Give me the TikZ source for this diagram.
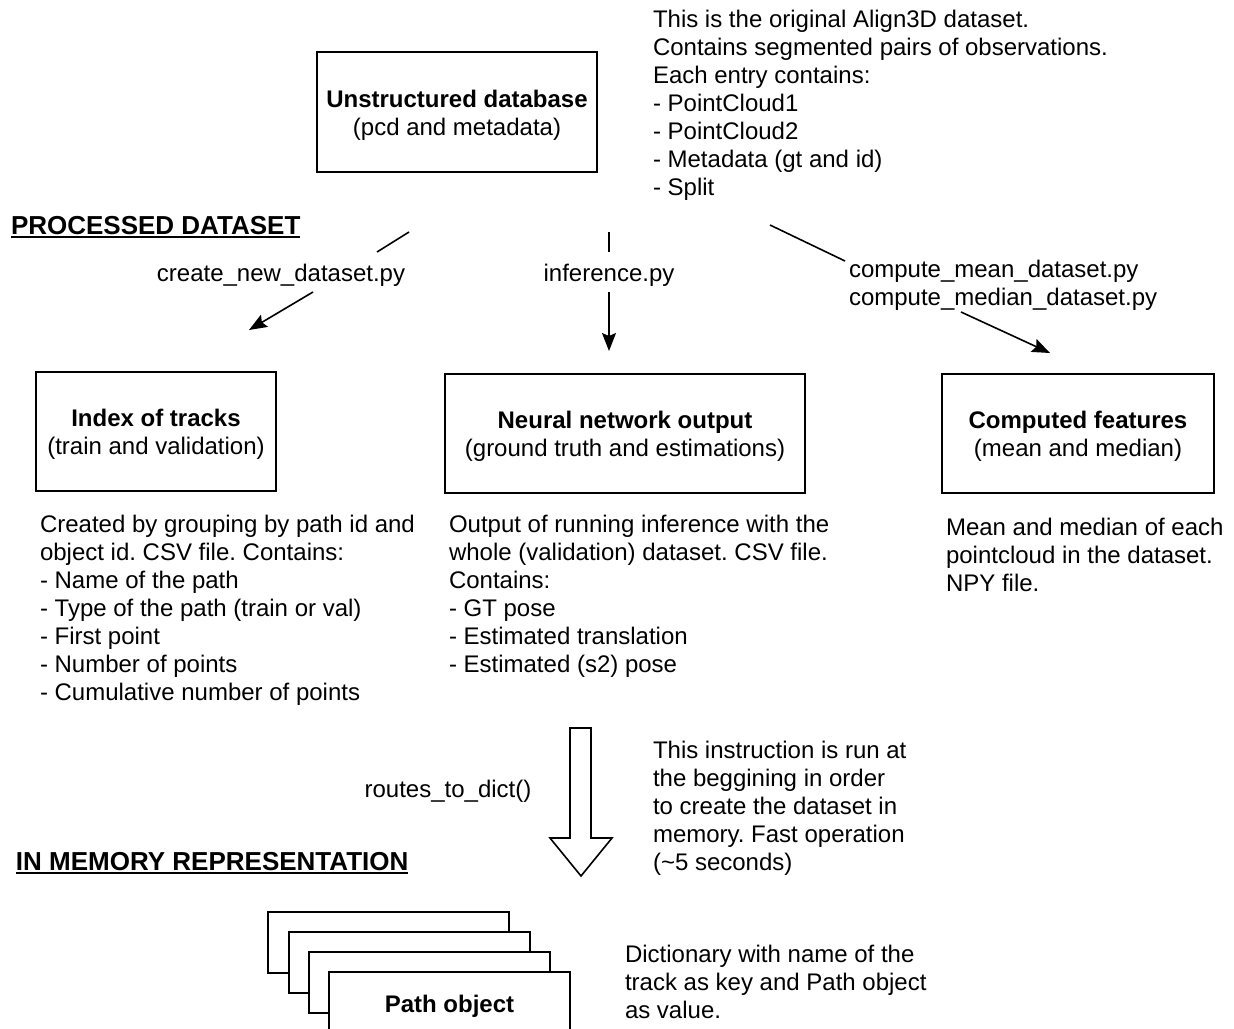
\documentclass[tikz,border=0pt]{standalone}
\usepackage{fontspec}
\setmainfont{Liberation Sans}
\usetikzlibrary{arrows.meta}
\frenchspacing
\begin{document}
\begin{tikzpicture}[x=1pt,y=-1pt,
  every node/.style={inner sep=0pt,outer sep=0pt,font=\fontsize{24}{28}\selectfont},
  box/.style={draw,line width=1.6pt,align=center,fill=white},
  note/.style={anchor=north west,align=left},
  lbl/.style={anchor=base},
  hdr/.style={anchor=base west,font=\fontsize{26}{30}\selectfont\bfseries},
  uline/.style={line width=2.4pt},
  conn/.style={line width=1.6pt},
  arr/.style={line width=1.6pt,-{Stealth[length=18pt,width=14pt,inset=3pt]}}]
\useasboundingbox (0,0) rectangle (1234,1028);
\newcommand{\tp}{\rule{0pt}{23.5pt}}

% top
\node[box,minimum width=280pt,minimum height=120pt] (db) at (457,112) {\tp\textbf{Unstructured database}\\(pcd and metadata)};
\node[note] (dbnote) at (653,10) {This is the original Align3D dataset.\\Contains segmented pairs of observations.\\Each entry contains:\\- PointCloud1\\- PointCloud2\\- Metadata (gt and id)\\- Split};

\node[hdr] (hdr1) at (11,234) {PROCESSED DATASET};
\draw[uline] ([yshift=-3pt]hdr1.base west) -- ([yshift=-3pt]hdr1.base east);

% labels on connectors
\node[lbl] (lblL) at (281,281) {create\_new\_dataset.py};
\node[lbl] (lblM) at (609,281) {inference.py};
\node[note] (lblR) at (849,260) {compute\_mean\_dataset.py\\compute\_median\_dataset.py};

% boxes
\node[box,minimum width=240pt,minimum height=119pt] (tracks) at (156,431.5) {\tp\textbf{Index of tracks}\\(train and validation)};
\node[box,minimum width=360pt,minimum height=119pt] (nn) at (625,433.5) {\tp\textbf{Neural network output}\\(ground truth and estimations)};
\node[box,minimum width=272pt,minimum height=119pt] (cf) at (1078,433.5) {\tp\textbf{Computed features}\\(mean and median)};

% connectors
\coordinate (aL1) at (409,232); \coordinate (aL2) at (377,252);
\coordinate (aL3) at (313,292); \coordinate (aL4) at (249,330);
\coordinate (aM1) at (609,232); \coordinate (aM2) at (609,252);
\coordinate (aM3) at (609,292); \coordinate (aM4) at (609,351);
\coordinate (aR1) at (770,225); \coordinate (aR2) at (845,261);
\coordinate (aR3) at (961,312); \coordinate (aR4) at (1050,353);
\draw[conn] (aL1) -- (aL2);
\draw[arr] (aL3) -- (aL4);
\draw[conn] (aM1) -- (aM2);
\draw[arr] (aM3) -- (aM4);
\draw[conn] (aR1) -- (aR2);
\draw[arr] (aR3) -- (aR4);

% notes under boxes
\node[note] (tracksnote) at (40,515) {Created by grouping by path id and\\object id. CSV file. Contains:\\- Name of the path\\- Type of the path (train or val)\\- First point\\- Number of points\\- Cumulative number of points};
\node[note] (nnnote) at (449,515) {Output of running inference with the\\whole (validation) dataset. CSV file.\\Contains:\\- GT pose\\- Estimated translation\\- Estimated (s2) pose};
\node[note] (cfnote) at (946,518) {Mean and median of each\\pointcloud in the dataset.\\NPY file.};

% block arrow
\draw[line width=1.6pt,fill=white] (570,728) -- (591,728) -- (591,838) -- (612,838) -- (581,876) -- (550,838) -- (570,838) -- cycle;
\node[lbl] (routes) at (448,797) {routes\_to\_dict()};
\node[note] (memnote) at (653,741) {This instruction is run at\\the beggining in order\\to create the dataset in\\memory. Fast operation\\(\textasciitilde5 seconds)};

\node[hdr] (hdr2) at (16,870) {IN MEMORY REPRESENTATION};
\draw[uline] ([yshift=-3pt]hdr2.base west) -- ([yshift=-3pt]hdr2.base east);

% stacked path objects
\node[box,anchor=north west,minimum width=241pt,minimum height=61pt] (p1) at (268,912) {};
\node[box,anchor=north west,minimum width=241pt,minimum height=61pt] (p2) at (289,932) {};
\node[box,anchor=north west,minimum width=241pt,minimum height=61pt] (p3) at (309,952) {};
\node[box,anchor=north west,minimum width=241pt,minimum height=61pt] (p4) at (329,972) {\rule{0pt}{25pt}\textbf{Path object}};

\node[note] (dictnote) at (625,945) {Dictionary with name of the\\track as key and Path object\\as value.};
\end{tikzpicture}
\end{document}
